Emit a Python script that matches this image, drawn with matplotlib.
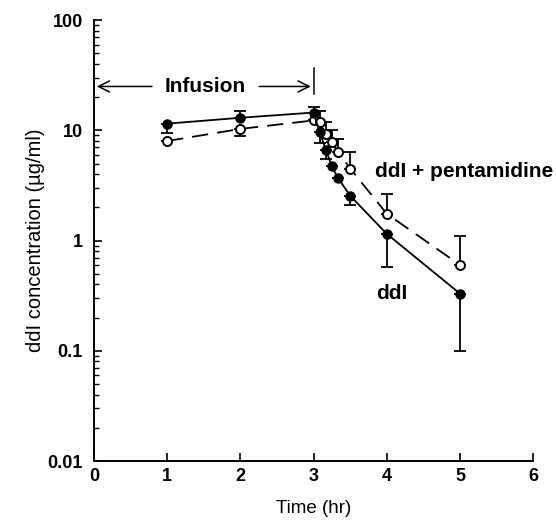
import matplotlib
matplotlib.use("Agg")
import matplotlib.pyplot as plt
from matplotlib.ticker import FixedLocator, LogLocator, FuncFormatter, NullFormatter

plt.rcParams["font.family"] = ["Liberation Sans", "DejaVu Sans"]

# time points (hr)
times = [1, 2, 3, 3.083, 3.167, 3.25, 3.333, 3.5, 4, 5]

# ddI alone (filled circles)
ddi = [11.5, 13.0, 14.5, 9.6, 6.7, 4.7, 3.7, 2.55, 1.15, 0.33]
ddi_low = [9.5, 13.0, 14.5, 7.6, 5.5, 4.7, 3.7, 2.1, 0.58, 0.1]
ddi_high = [11.5, 14.9, 16.2, 9.6, 6.7, 4.7, 3.7, 2.55, 1.15, 0.33]

# ddI + pentamidine (open circles)
pent = [8.0, 10.3, 12.3, 11.8, 9.2, 7.8, 6.4, 4.5, 1.75, 0.6]
pent_low = [8.0, 8.8, 12.3, 11.8, 9.2, 7.8, 6.4, 4.5, 1.75, 0.6]
pent_high = [8.0, 10.3, 12.3, 15.0, 12.0, 10.0, 8.4, 6.3, 2.65, 1.1]

x_ticks = [0, 1, 2, 3, 4, 5, 6]
y_ticks = [0.01, 0.1, 1, 10, 100]
y_labels = ["0.01", "0.1", "1", "10", "100"]

fig = plt.figure(figsize=(5.56, 5.29), dpi=100)
ax = fig.add_axes([0.169, 0.1285, 0.79, 0.8335])

ax.set_yscale("log")
ax.set_xlim(0, 6)
ax.set_ylim(0.01, 100)

err_kw = dict(fmt="none", ecolor="black", elinewidth=1.3, capsize=4, capthick=1.3, zorder=2)
ax.errorbar(times, ddi, yerr=[[v - l for v, l in zip(ddi, ddi_low)], [h - v for v, h in zip(ddi, ddi_high)]], **err_kw)
ax.errorbar(times, pent, yerr=[[v - l for v, l in zip(pent, pent_low)], [h - v for v, h in zip(pent, pent_high)]], **err_kw)

ax.plot(times, pent, color="black", lw=1.3, dashes=(9, 5), marker="o", ms=6.5,
        mfc="white", mec="black", mew=1.4, zorder=3)
ax.plot(times, ddi, color="black", lw=1.3, marker="o", ms=6.5,
        mfc="black", mec="black", zorder=4)

# infusion annotation
ax.annotate("", xy=(0, 25), xytext=(0.83, 25),
            arrowprops=dict(arrowstyle="->", color="black", lw=1.1, mutation_scale=20))
ax.annotate("", xy=(3, 25), xytext=(2.22, 25),
            arrowprops=dict(arrowstyle="->", color="black", lw=1.1, mutation_scale=20))
ax.plot([3, 3], [21.5, 37], color="black", lw=1.1)
ax.text(1.52, 25, "Infusion", ha="center", va="center", fontsize=15, fontweight="bold")

ax.text(3.84, 4.2, "ddI + pentamidine", ha="left", va="center", fontsize=15,
        fontweight="bold", clip_on=False)
ax.text(3.86, 0.33, "ddI", ha="left", va="center", fontsize=15, fontweight="bold")

ax.spines["top"].set_visible(False)
ax.spines["right"].set_visible(False)
ax.spines["left"].set_linewidth(1.4)
ax.spines["bottom"].set_linewidth(1.4)

ax.xaxis.set_major_locator(FixedLocator(x_ticks))
ax.yaxis.set_major_locator(FixedLocator(y_ticks))
ax.yaxis.set_major_formatter(FuncFormatter(lambda v, pos: y_labels[y_ticks.index(v)] if v in y_ticks else ""))
ax.yaxis.set_minor_locator(LogLocator(base=10, subs=range(2, 10)))
ax.yaxis.set_minor_formatter(NullFormatter())

ax.tick_params(axis="both", which="major", direction="in", length=6, width=1.2,
               labelsize=13, pad=8)
ax.tick_params(axis="x", which="major", pad=5)
ax.tick_params(axis="y", which="minor", direction="in", length=3.5, width=1.0)
for lab in ax.get_xticklabels() + ax.get_yticklabels():
    lab.set_fontweight("bold")

ax.set_xlabel("Time (hr)", fontsize=13.5, labelpad=11)
ax.set_ylabel("ddI concentration (µg/ml)", fontsize=14.5, labelpad=2)

fig.savefig("out.png", dpi=100)
